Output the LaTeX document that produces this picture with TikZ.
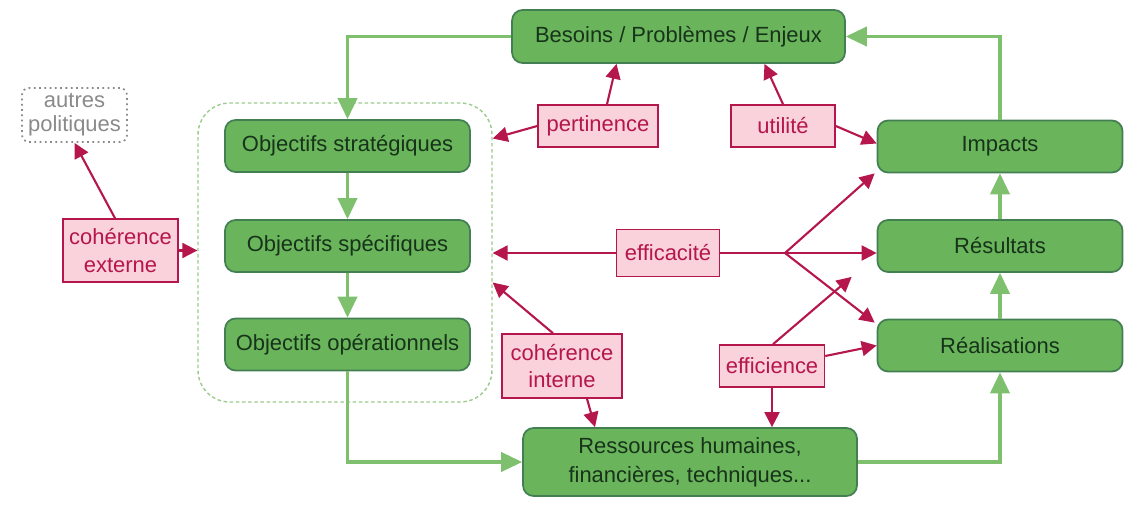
\documentclass[tikz,border=0pt]{standalone}
\usepackage{fontspec}
\setmainfont{Liberation Sans}
\usetikzlibrary{arrows.meta,positioning}
\definecolor{boxgreen}{HTML}{6AB55B}
\definecolor{boxedge}{HTML}{437F52}
\definecolor{boxtext}{HTML}{17331A}
\definecolor{flowgreen}{HTML}{7EC06E}
\definecolor{dashgreen}{HTML}{9CCB8E}
\definecolor{pinkfill}{HTML}{F9D2DB}
\definecolor{crimson}{HTML}{B5164B}
\definecolor{otherpol}{HTML}{8A8A8A}
\begin{document}
\begin{tikzpicture}[x=0.02cm,y=-0.02cm,
  every node/.style={font=\fontsize{12.5}{14.5}\selectfont},
  etape/.style={draw=boxedge,fill=boxgreen,text=boxtext,line width=1pt,rounded corners=6pt,
    minimum width=4.9cm,minimum height=1.04cm,align=center},
  critere/.style={draw=crimson,fill=pinkfill,text=crimson,line width=0.9pt,align=center,inner sep=2pt},
  flux/.style={draw=flowgreen,line width=1.8pt,-{Triangle[length=12pt,width=11pt]}},
  lien/.style={draw=crimson,line width=1.2pt,-{Triangle[length=8.5pt,width=8.5pt]}}]
  \useasboundingbox (0,0) rectangle (1138,504);
  \node[draw=dashgreen,dash pattern=on 2pt off 1.5pt,line width=0.8pt,rounded corners=18pt,
    minimum width=5.88cm,minimum height=5.98cm] (objectifs) at (345,252.5) {};
  \node[etape,minimum width=6.66cm,minimum height=1.06cm] (besoins) at (678.5,36.5) {Besoins / Problèmes / Enjeux};
  \node[etape] (strat) at (347.5,146) {Objectifs stratégiques};
  \node[etape] (spec) at (347.5,246) {Objectifs spécifiques};
  \node[etape] (oper) at (347.5,344.5) {Objectifs opérationnels};
  \node[etape] (impacts) at (1000,146.5) {Impacts};
  \node[etape] (result) at (1000,246) {Résultats};
  \node[etape] (realis) at (1000,345.5) {Réalisations};
  \node[etape,minimum width=6.68cm,minimum height=1.36cm,font=\fontsize{12.5}{16.5}\selectfont] (ressources) at (690,462) {Ressources humaines,\\financières, techniques...};
  \node[draw=otherpol,text=otherpol,dotted,line width=1pt,rounded corners=4pt,align=center,
    minimum width=2.1cm,minimum height=1.08cm,inner sep=1pt,font=\fontsize{12.5}{13.5}\selectfont] (autres) at (74.5,115) {autres\\politiques};
  \node[critere,minimum width=2.3cm,minimum height=1.26cm,font=\fontsize{12.5}{15.5}\selectfont] (cohext) at (120.5,250.5) {cohérence\\externe};
  \node[critere,minimum width=2.4cm,minimum height=0.84cm] (pert) at (598,126) {pertinence};
  \node[critere,minimum width=2.08cm,minimum height=0.84cm] (util) at (783,126) {utilité};
  \node[critere,minimum width=2.06cm,minimum height=0.94cm] (effic) at (668,253) {efficacité};
  \node[critere,minimum width=2.4cm,minimum height=1.28cm,font=\fontsize{12.5}{15.5}\selectfont] (cohint) at (562,366) {cohérence\\interne};
  \node[critere,minimum width=2.1cm,minimum height=0.84cm] (effien) at (772,366) {efficience};
  \coordinate (fourche) at (785,253);
  \draw[flux] (besoins.west) -| (strat.north);
  \draw[flux] (strat.south) -- (spec.north);
  \draw[flux] (spec.south) -- (oper.north);
  \draw[flux] (oper.south) |- (ressources.west);
  \draw[flux] (ressources.east) -| (realis.south);
  \draw[flux] (realis.north) -- (result.south);
  \draw[flux] (result.north) -- (impacts.south);
  \draw[flux] (impacts.north) |- (besoins.east);
  \draw[lien] (cohext.north -| 115,0) -- (autres.south);
  \draw[lien] (cohext.east) -- (objectifs.west |- cohext.east);
  \draw[lien] ([xshift=0.18cm]pert.north) -- ([xshift=-1.24cm]besoins.south);
  \draw[lien] (pert.west) -- ([yshift=2.28cm]objectifs.east);
  \draw[lien] (util.north) -- ([xshift=1.72cm]besoins.south);
  \draw[lien] (util.east) -- ([yshift=0.06cm]impacts.west);
  \draw[lien] (effic.west) -- (objectifs.east |- effic.west);
  \draw[draw=crimson,line width=1.2pt] (effic.east) -- (fourche);
  \draw[lien] (fourche) -- ([xshift=-0.04cm]impacts.south west);
  \draw[lien] (fourche) -- (result.west |- fourche);
  \draw[lien] (fourche) -- ([xshift=-0.04cm,yshift=-0.08cm]realis.north west);
  \draw[lien] ([xshift=-0.18cm]cohint.north) -- ([yshift=-0.6cm]objectifs.east);
  \draw[lien] ([xshift=0.5cm]cohint.south) -- ([xshift=-1.9cm]ressources.north);
  \draw[lien] ([xshift=0.02cm]effien.north) -- ([xshift=-0.5cm,yshift=-0.08cm]result.south west);
  \draw[lien] ([yshift=0.2cm]effien.east) -- (realis.west);
  \draw[lien] (effien.south) -- (effien.south |- ressources.north);
\end{tikzpicture}
\end{document}
